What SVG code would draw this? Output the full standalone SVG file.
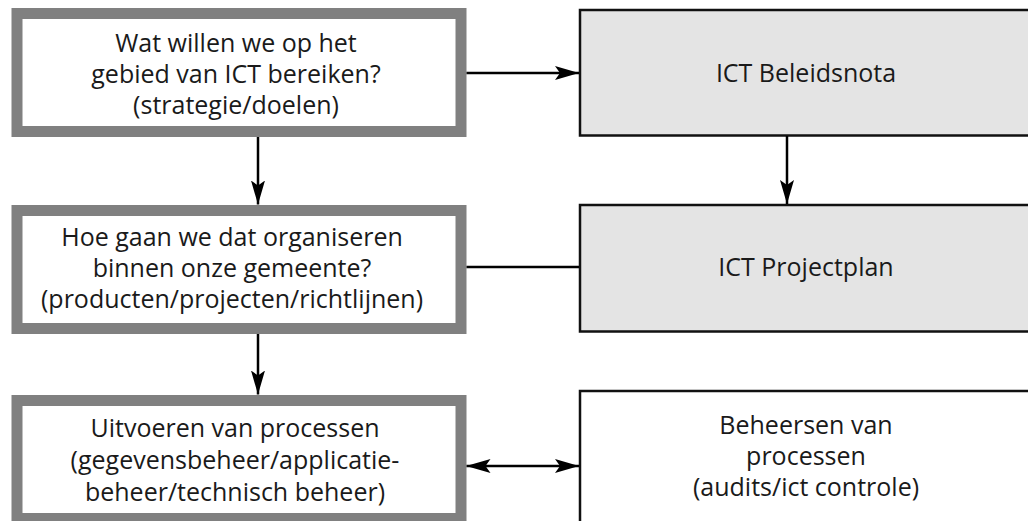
<svg xmlns="http://www.w3.org/2000/svg" width="1028" height="521" viewBox="0 0 1028 521">
<defs>
<style>
.lbox{fill:#ffffff;stroke:#808080;stroke-width:11}
.rbox{fill:#e4e4e4;stroke:#111111;stroke-width:2.5}
.rbox.w{fill:#ffffff}
.t{font-family:"Open Sans","Noto Sans","Liberation Sans",sans-serif;font-size:25px;fill:#1a1a1a;text-anchor:middle}
.c{stroke:#000000;stroke-width:2.5;fill:none}
</style>
<marker id="ah" viewBox="0 0 24 14" refX="24" refY="7" markerWidth="24" markerHeight="14" orient="auto-start-reverse" markerUnits="userSpaceOnUse">
<path d="M0,0 L24,7 L0,14 L5,7 z" fill="#000000"/>
</marker>
</defs>
<rect width="1028" height="521" fill="#ffffff"/>
<g id="n1">
<rect class="lbox" x="17" y="13.5" width="444" height="118"/>
<text class="t" x="236" y="52">Wat willen we op het</text>
<text class="t" x="236" y="83">gebied van ICT bereiken?</text>
<text class="t" x="236" y="114">(strategie/doelen)</text>
</g>
<g id="n2">
<rect class="lbox" x="17" y="210.5" width="444" height="118"/>
<text class="t" x="232" y="246">Hoe gaan we dat organiseren</text>
<text class="t" x="232" y="277">binnen onze gemeente?</text>
<text class="t" x="232" y="308">(producten/projecten/richtlijnen)</text>
</g>
<g id="n3">
<rect class="lbox" x="17" y="400.5" width="444" height="118"/>
<text class="t" x="235" y="437">Uitvoeren van processen</text>
<text class="t" x="235" y="469">(gegevensbeheer/applicatie-</text>
<text class="t" x="235" y="501">beheer/technisch beheer)</text>
</g>
<g id="n4">
<rect class="rbox" x="580" y="10" width="460" height="125.5"/>
<text class="t" x="806" y="82">ICT Beleidsnota</text>
</g>
<g id="n5">
<rect class="rbox" x="580" y="205" width="460" height="126.5"/>
<text class="t" x="806" y="276">ICT Projectplan</text>
</g>
<g id="n6">
<rect class="rbox w" x="580" y="391" width="460" height="145"/>
<text class="t" x="806" y="434">Beheersen van</text>
<text class="t" x="806" y="465">processen</text>
<text class="t" x="806" y="496">(audits/ict controle)</text>
</g>
<g id="connectors">
<line class="c" x1="466.5" y1="73" x2="579" y2="73" marker-end="url(#ah)"/>
<line class="c" x1="258" y1="137" x2="258" y2="204.5" marker-end="url(#ah)"/>
<line class="c" x1="787" y1="136" x2="787" y2="204" marker-end="url(#ah)"/>
<line class="c" x1="466.5" y1="267" x2="579" y2="267"/>
<line class="c" x1="258" y1="334" x2="258" y2="394.5" marker-end="url(#ah)"/>
<line class="c" x1="466.5" y1="466" x2="579" y2="466" marker-start="url(#ah)" marker-end="url(#ah)"/>
</g>
</svg>
